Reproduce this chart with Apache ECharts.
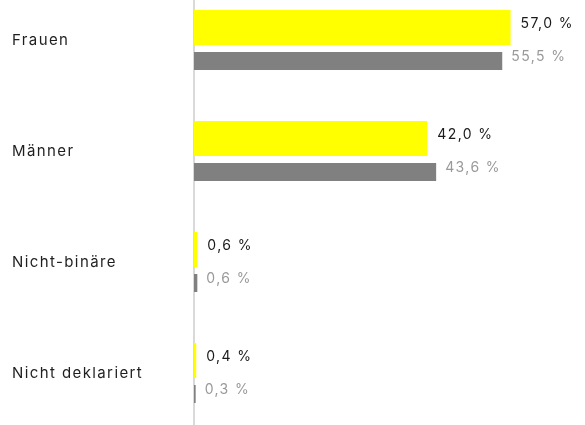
<!DOCTYPE html>
<html>
<head>
<meta charset="utf-8">
<script src="https://cdn.jsdelivr.net/npm/echarts@6/dist/echarts.min.js"></script>
<style>
  html, body { margin: 0; padding: 0; background: #ffffff; }
  #chart { width: 585px; height: 425px; }
</style>
</head>
<body>
<div id="chart"></div>
<script>
// Gender split, two periods
const categories = ['Frauen', 'Männer', 'Nicht-binäre', 'Nicht deklariert'];
const currentValues = [57.0, 42.0, 0.6, 0.4];
const previousValues = [55.5, 43.6, 0.6, 0.3];

const fmt = v => v.toFixed(1).replace('.', ',') + ' %';
const FONT = 'Inter, "Noto Sans", sans-serif';

// Slightly tracked lettering for all chart text
(function () {
  const proto = CanvasRenderingContext2D.prototype;
  const fill = proto.fillText;
  proto.fillText = function () {
    if ('letterSpacing' in this) this.letterSpacing = '1.4px';
    return fill.apply(this, arguments);
  };
})();

const chart = echarts.init(document.getElementById('chart'), null, { renderer: 'canvas' });

chart.setOption({
  animation: false,
  backgroundColor: '#ffffff',
  grid: {
    left: 194, right: 0, top: -15.5, height: 444,
    outerBoundsMode: 'none'
  },
  xAxis: {
    type: 'value',
    min: 0,
    max: 70.4,
    show: false
  },
  yAxis: {
    type: 'category',
    data: categories,
    inverse: true,
    axisLine: { show: true, lineStyle: { color: '#d9d9d9', width: 2 } },
    axisTick: { show: false },
    splitLine: { show: false },
    axisLabel: {
      align: 'left',
      margin: 182,
      color: '#1f1f1f',
      fontFamily: FONT,
      fontSize: 15,
      padding: [0, 0, 3, 0]
    }
  },
  series: [
    {
      name: 'current',
      type: 'bar',
      data: currentValues,
      barWidth: 35,
      barGap: '20%',
      itemStyle: { color: '#ffff00' },
      label: {
        show: true,
        position: 'right',
        distance: 10,
        offset: [0, -4],
        color: '#1a1a1a',
        fontFamily: FONT,
        fontSize: 14,
        formatter: p => fmt(p.value)
      }
    },
    {
      name: 'previous',
      type: 'bar',
      data: previousValues,
      barWidth: 18,
      itemStyle: { color: '#808080' },
      label: {
        show: true,
        position: 'right',
        distance: 9,
        offset: [0, -4],
        color: '#999999',
        fontFamily: FONT,
        fontSize: 14,
        formatter: p => fmt(p.value)
      }
    }
  ]
});
</script>
</body>
</html>
